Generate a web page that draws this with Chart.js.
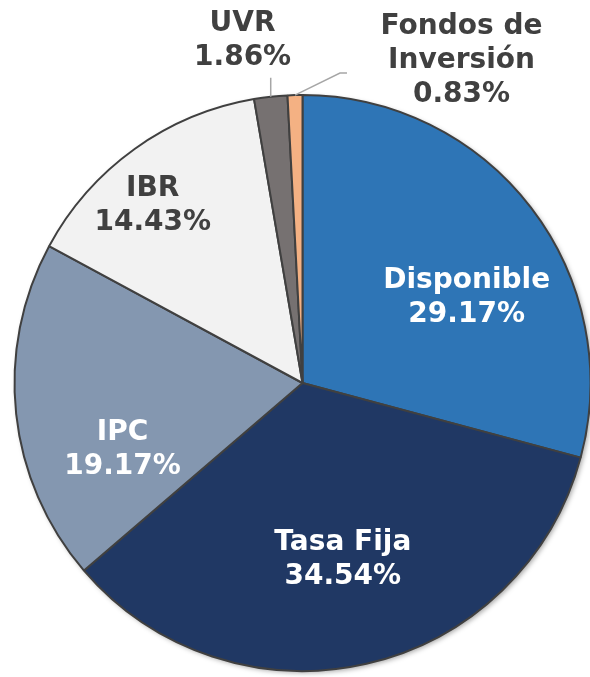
<!DOCTYPE html>
<html>
<head>
<meta charset="utf-8">
<script src="https://cdn.jsdelivr.net/npm/chart.js@4"></script>
<style>
  html, body { margin: 0; padding: 0; background: #fff; }
  #wrap { width: 590px; height: 677px; }
</style>
</head>
<body>
<div id="wrap"><canvas id="myChart" width="590" height="677"></canvas></div>
<script>
const labels = ["Disponible", "Tasa Fija", "IPC", "IBR", "UVR", "Fondos de Inversión"];
const values = [29.17, 34.54, 19.17, 14.43, 1.86, 0.83];
const colors = ["#2E75B6", "#203864", "#8497B0", "#F2F2F2", "#767171", "#F4B183"];
const textColors = ["#ffffff", "#ffffff", "#ffffff", "#404040", "#404040", "#404040"];
// label lines (name lines + percent)
const labelLines = [["Disponible"], ["Tasa Fija"], ["IPC"], ["IBR"], ["UVR"], ["Fondos de", "Inversión"]];
// label centre, relative to pie centre, in units of radius
const labelPos = [[0.57, -0.295], [0.14, 0.615], [-0.625, 0.23], [-0.52, -0.615], [-0.208, -1.19], [0.552, -1.12]];

const pieShadow = {
  id: "pieShadow",
  beforeDatasetsDraw(chart) {
    const arc = chart.getDatasetMeta(0).data[0];
    const ctx = chart.ctx;
    ctx.save();
    ctx.shadowColor = "rgba(0,0,0,0.35)";
    ctx.shadowBlur = 5;
    ctx.shadowOffsetX = 2;
    ctx.shadowOffsetY = 2;
    ctx.fillStyle = "#404040";
    ctx.beginPath();
    ctx.arc(arc.x, arc.y, arc.outerRadius, 0, Math.PI * 2);
    ctx.fill();
    ctx.restore();
  }
};

const pieLabels = {
  id: "pieLabels",
  afterDatasetsDraw(chart) {
    const ctx = chart.ctx;
    const arcs = chart.getDatasetMeta(0).data;
    const cx = arcs[0].x, cy = arcs[0].y, r = arcs[0].outerRadius;
    ctx.save();
    ctx.font = "bold 28px 'DejaVu Sans', Verdana, sans-serif";
    ctx.textAlign = "center";
    ctx.textBaseline = "middle";
    const lh = 34;
    values.forEach((v, i) => {
      const lines = labelLines[i].concat([v.toFixed(2) + "%"]);
      const x = cx + labelPos[i][0] * r;
      const y = cy + labelPos[i][1] * r;
      ctx.fillStyle = textColors[i];
      lines.forEach((t, j) => {
        ctx.fillText(t, x, y + (j - (lines.length - 1) / 2) * lh);
      });
    });

    // leader lines for the two small slices
    ctx.strokeStyle = "#A6A6A6";
    ctx.lineWidth = 1.5;
    const uvr = arcs[4];
    let a = (uvr.startAngle + uvr.endAngle) / 2;
    let ex = cx + Math.cos(a) * r, ey = cy + Math.sin(a) * r;
    ctx.beginPath();
    ctx.moveTo(ex, ey);
    ctx.lineTo(ex, ey - 19);
    ctx.stroke();

    const fondos = arcs[5];
    a = (fondos.startAngle + fondos.endAngle) / 2;
    ex = cx + Math.cos(a) * r; ey = cy + Math.sin(a) * r;
    ctx.beginPath();
    ctx.moveTo(ex, ey);
    ctx.lineTo(ex + 45, ey - 22);
    ctx.lineTo(ex + 52, ey - 22);
    ctx.stroke();
    ctx.restore();
  }
};

const data = {
  labels: labels,
  datasets: [
    {
      data: values,
      backgroundColor: colors,
      borderColor: "#404040",
      borderWidth: 2,
    },
  ],
};

const config = {
  type: "pie",
  data: data,
  options: {
    responsive: false,
    animation: false,
    radius: 288,
    layout: {
      padding: { left: 15, right: 0, top: 96, bottom: 7 },
    },
    plugins: {
      legend: { display: false },
      tooltip: { enabled: false },
    },
  },
  plugins: [pieShadow, pieLabels],
};

const myChart = new Chart(document.getElementById("myChart"), config);
</script>
</body>
</html>
